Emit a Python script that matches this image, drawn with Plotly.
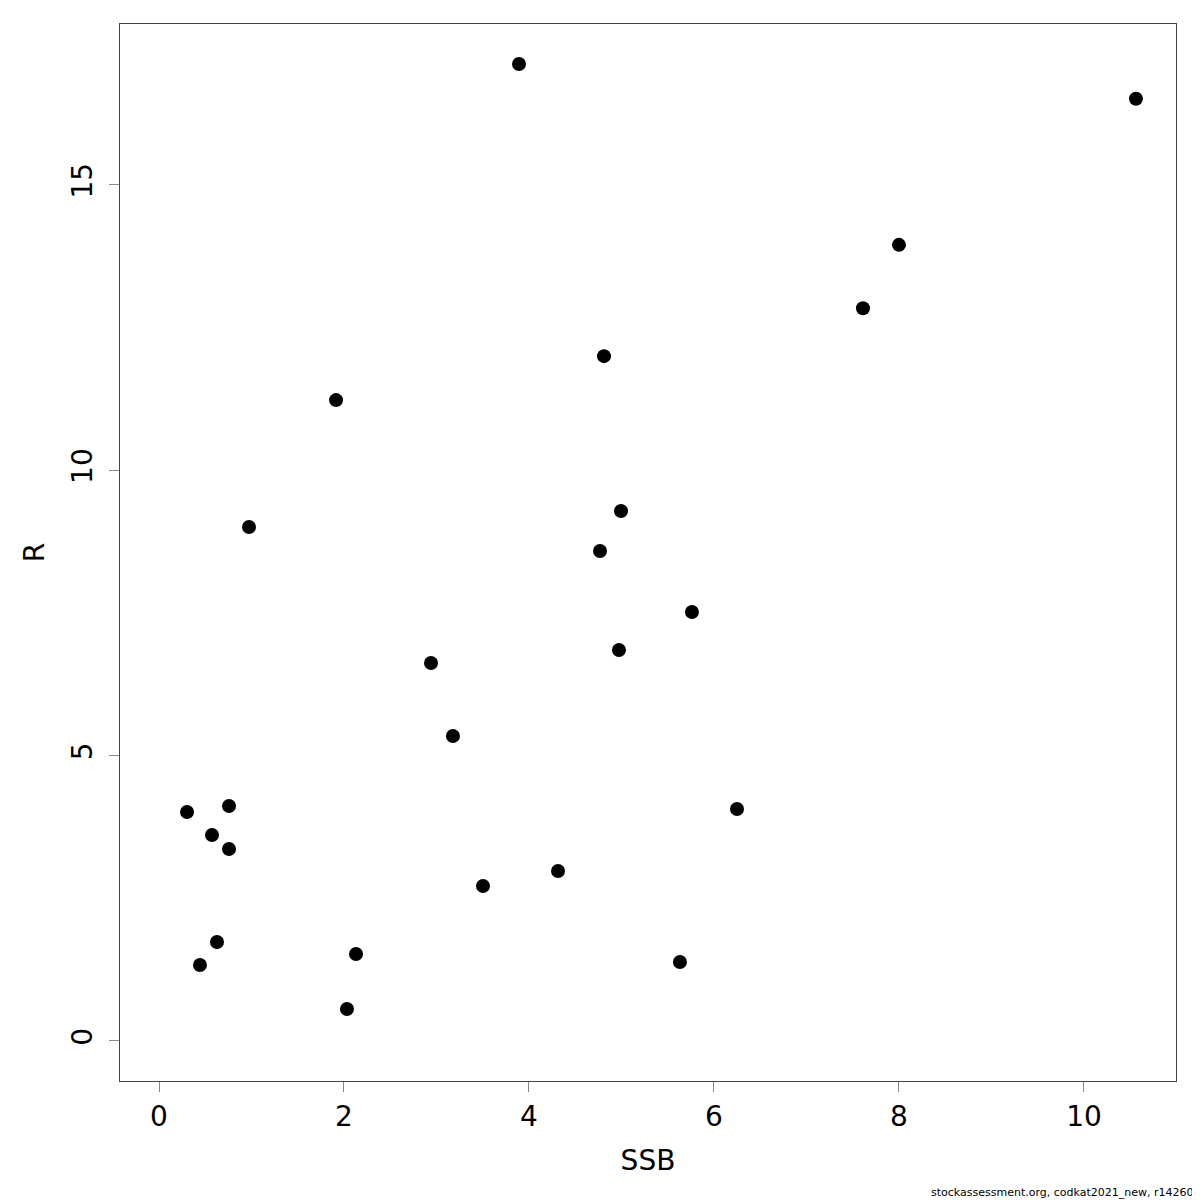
import plotly.graph_objects as go

ssb = [3.892, 10.562, 8.00, 7.611, 4.811, 1.914, 0.973, 4.995, 4.768, 5.762, 4.973,
       2.941, 3.178, 6.249, 0.757, 0.303, 0.573, 0.757, 4.314, 3.503, 2.130, 0.627,
       5.632, 0.443, 2.032]
rec = [17.12, 16.51, 13.95, 12.84, 12.00, 11.23, 9.007, 9.287, 8.586, 7.517, 6.851,
       6.623, 5.344, 4.065, 4.118, 4.013, 3.610, 3.364, 2.979, 2.716, 1.524, 1.735,
       1.384, 1.332, 0.561]
x_ticks = [0, 2, 4, 6, 8, 10]
y_ticks = [0, 5, 10, 15]
footer = "stockassessment.org, codkat2021_new, r14260"

fig = go.Figure()
fig.add_trace(go.Scatter(x=ssb, y=rec, mode="markers",
                         marker=dict(color="black", size=14, line=dict(width=0)),
                         showlegend=False))

axis_common = dict(showline=True, linecolor="#444444", linewidth=1, mirror=True,
                   ticks="outside", ticklen=10, tickcolor="#888888", tickwidth=1,
                   showgrid=False, zeroline=False,
                   tickfont=dict(family="DejaVu Sans", size=28, color="black"))

fig.update_layout(
    width=1200, height=1200,
    margin=dict(l=112, r=32, t=16, b=127),
    plot_bgcolor="white", paper_bgcolor="white",
    font=dict(family="DejaVu Sans", color="black"),
    xaxis=dict(range=[-0.4216, 10.995], tickvals=x_ticks, ticklabelstandoff=0,
               title=dict(text="SSB", font=dict(size=28), standoff=18), **axis_common),
    yaxis=dict(range=[-0.701, 17.82], tickvals=y_ticks, tickangle=-90, ticklabelstandoff=6,
               title=dict(text="R", font=dict(size=28), standoff=12), **axis_common),
    annotations=[dict(text=footer, xref="paper", yref="paper", x=1.0, y=0,
                      xshift=19, yshift=-120, xanchor="right", yanchor="bottom",
                      showarrow=False, font=dict(size=11, color="black"))],
)

fig.write_html("out.html")
